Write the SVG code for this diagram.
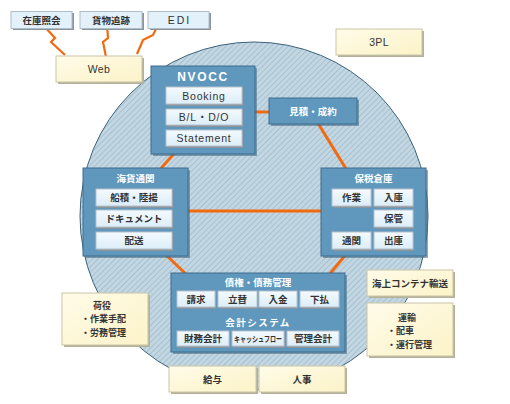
<svg xmlns="http://www.w3.org/2000/svg" width="510" height="404" viewBox="0 0 510 404">
<defs>
<pattern id="hatch" width="4" height="4" patternUnits="userSpaceOnUse" patternTransform="rotate(45)">
<rect width="4" height="4" fill="#c3d7e3"/>
<line x1="0" y1="0" x2="0" y2="4" stroke="#9bb7c8" stroke-width="1.4"/>
</pattern>
<linearGradient id="gSub" x1="0" y1="0" x2="0" y2="1">
<stop offset="0" stop-color="#f4faff"/><stop offset="1" stop-color="#dcedf8"/>
</linearGradient>
<linearGradient id="gCream" x1="0" y1="0" x2="1" y2="1">
<stop offset="0" stop-color="#fffbe8"/><stop offset="1" stop-color="#fcf3c8"/>
</linearGradient>
</defs>
<style>
.blue{fill:#5f97bd;stroke:#3f6d8c;stroke-width:1}
.bsh{fill:#4a6f88;opacity:0.6}
.sub{fill:url(#gSub);stroke:#b8c2ca;stroke-width:1}
.ssh{fill:#8a949c}
.cream{fill:url(#gCream);stroke:#c9c5a8;stroke-width:1}
.csh{fill:#b4b09a}
.top{fill:#e3f1fb;stroke:#b0bcc6;stroke-width:1}
.t{font-family:"Noto Sans CJK JP","Liberation Sans",sans-serif;font-size:9.5px;font-weight:bold;fill:#333;text-anchor:middle}
.tl{font-family:"Liberation Sans","Noto Sans CJK JP",sans-serif;font-size:10.5px;fill:#333;text-anchor:middle;letter-spacing:0.8px}
.w{font-family:"Noto Sans CJK JP","Liberation Sans",sans-serif;font-size:9.5px;font-weight:bold;fill:#ffffff;text-anchor:middle}
.wl{font-family:"Liberation Sans",sans-serif;font-size:12px;font-weight:bold;fill:#ffffff;text-anchor:middle;letter-spacing:1.6px}
.tc{font-family:"Noto Sans CJK JP","Liberation Sans",sans-serif;font-size:9px;font-weight:bold;fill:#333}
.link{stroke:#f26a0f;stroke-width:3;fill:none}
.bolt{stroke:#f26a0f;stroke-width:2.2;fill:none;stroke-linejoin:miter}
</style>

<circle id="ring" cx="254" cy="216" r="174" fill="url(#hatch)" stroke="#3c627a" stroke-width="1"/>

<g id="connectors">
<line class="link" x1="250" y1="112" x2="272" y2="112"/>
<line class="link" x1="316" y1="120" x2="348" y2="172"/>
<line class="link" x1="186" y1="140" x2="156" y2="174"/>
<line class="link" x1="185" y1="211" x2="324" y2="211"/>
<line class="link" x1="164" y1="253" x2="188" y2="276"/>
<line class="link" x1="348" y1="252" x2="328" y2="276"/>
<polyline class="bolt" points="43,25 55,38 51,42 65,55"/>
<polyline class="bolt" points="107,25 108,38 103,42 106,57"/>
<polyline class="bolt" points="158,25 153,35 143,40 137,54"/>
</g>

<g id="zaiko">
<rect class="ssh" x="13" y="13" width="61" height="17"/>
<rect class="top" x="11" y="11.5" width="61" height="17"/>
<text class="t" x="41.5" y="23.5">在庫照会</text>
</g>
<g id="kamotsu">
<rect class="ssh" x="82" y="13" width="62" height="17"/>
<rect class="top" x="80" y="11.5" width="62" height="17"/>
<text class="t" x="111" y="23.5">貨物追跡</text>
</g>
<g id="edi">
<rect class="ssh" x="150" y="13" width="61" height="17"/>
<rect class="top" x="148" y="11.5" width="61" height="17"/>
<text class="tl" x="179.5" y="24" style="letter-spacing:2px">EDI</text>
</g>
<g id="web">
<rect class="csh" x="58" y="58" width="86" height="26"/>
<rect class="cream" x="56" y="56" width="86" height="26"/>
<text class="tl" x="99" y="73" style="letter-spacing:0.3px">Web</text>
</g>
<g id="3pl">
<rect class="csh" x="338" y="31" width="86" height="26"/>
<rect class="cream" x="336" y="29" width="86" height="26"/>
<text class="tl" x="379" y="46" style="letter-spacing:0.3px">3PL</text>
</g>

<g id="nvocc">
<rect class="bsh" x="153" y="68" width="104" height="88"/>
<rect class="blue" x="151" y="66" width="104" height="88"/>
<text class="wl" x="203" y="81">NVOCC</text>
<rect class="ssh" x="167" y="88" width="76" height="18"/>
<rect class="sub" x="166" y="87" width="76" height="17"/>
<text class="tl" x="204" y="99.5">Booking</text>
<rect class="ssh" x="167" y="110" width="76" height="17"/>
<rect class="sub" x="166" y="109" width="76" height="16"/>
<text class="tl" x="204" y="121">B/L・D/O</text>
<rect class="ssh" x="167" y="131" width="76" height="17"/>
<rect class="sub" x="166" y="130" width="76" height="16"/>
<text class="tl" x="204" y="142">Statement</text>
</g>

<g id="mitsumori">
<rect class="bsh" x="271" y="100" width="88" height="26"/>
<rect class="blue" x="269" y="98" width="88" height="26"/>
<text class="w" x="313" y="115">見積・成約</text>
</g>

<g id="kaika">
<rect class="bsh" x="85" y="170" width="105" height="88"/>
<rect class="blue" x="83" y="168" width="105" height="88"/>
<text class="w" x="135.5" y="182">海貨通関</text>
<rect class="ssh" x="97" y="190" width="76" height="18"/>
<rect class="sub" x="96" y="189" width="76" height="17"/>
<text class="t" x="134" y="201">船積・陸揚</text>
<rect class="ssh" x="97" y="211" width="76" height="18"/>
<rect class="sub" x="96" y="210" width="76" height="17"/>
<text class="t" x="134" y="222">ドキュメント</text>
<rect class="ssh" x="97" y="233" width="76" height="18"/>
<rect class="sub" x="96" y="232" width="76" height="17"/>
<text class="t" x="134" y="244">配送</text>
</g>

<g id="hozei">
<rect class="bsh" x="323" y="170" width="105" height="88"/>
<rect class="blue" x="321" y="168" width="105" height="88"/>
<text class="w" x="373.5" y="182">保税倉庫</text>
<rect class="ssh" x="333" y="190" width="39" height="18"/>
<rect class="sub" x="332" y="189" width="39" height="17"/>
<text class="t" x="351.5" y="201">作業</text>
<rect class="ssh" x="375" y="190" width="39" height="18"/>
<rect class="sub" x="374" y="189" width="39" height="17"/>
<text class="t" x="393.5" y="201">入庫</text>
<rect class="ssh" x="375" y="211" width="39" height="18"/>
<rect class="sub" x="374" y="210" width="39" height="17"/>
<text class="t" x="393.5" y="222">保管</text>
<rect class="ssh" x="333" y="233" width="39" height="18"/>
<rect class="sub" x="332" y="232" width="39" height="17"/>
<text class="t" x="351.5" y="244">通関</text>
<rect class="ssh" x="375" y="233" width="39" height="18"/>
<rect class="sub" x="374" y="232" width="39" height="17"/>
<text class="t" x="393.5" y="244">出庫</text>
</g>

<g id="saiken">
<rect class="bsh" x="173" y="275" width="174" height="79"/>
<rect class="blue" x="171" y="273" width="174" height="79"/>
<text class="w" x="258" y="286">債権・債務管理</text>
<rect class="ssh" x="178" y="292" width="38" height="17"/>
<rect class="sub" x="177" y="291" width="38" height="16"/>
<text class="t" x="196" y="302.5">請求</text>
<rect class="ssh" x="219" y="292" width="39" height="17"/>
<rect class="sub" x="218" y="291" width="39" height="16"/>
<text class="t" x="237.5" y="302.5">立替</text>
<rect class="ssh" x="260" y="292" width="38" height="17"/>
<rect class="sub" x="259" y="291" width="38" height="16"/>
<text class="t" x="278" y="302.5">入金</text>
<rect class="ssh" x="301" y="292" width="39" height="17"/>
<rect class="sub" x="300" y="291" width="39" height="16"/>
<text class="t" x="319.5" y="302.5">下払</text>
<text class="w" x="258" y="325.5" style="letter-spacing:1.5px">会計システム</text>
<rect class="ssh" x="178" y="332" width="52" height="16"/>
<rect class="sub" x="177" y="331" width="52" height="15"/>
<text class="t" x="203" y="342">財務会計</text>
<rect class="ssh" x="233" y="332" width="52" height="16"/>
<rect class="sub" x="232" y="331" width="52" height="15"/>
<text class="t" x="258" y="341.5" style="font-size:8px" textLength="48" lengthAdjust="spacingAndGlyphs">キャッシュフロー</text>
<rect class="ssh" x="288" y="332" width="52" height="16"/>
<rect class="sub" x="287" y="331" width="52" height="15"/>
<text class="t" x="313" y="342">管理会計</text>
</g>

<g id="niyaku">
<rect class="csh" x="64" y="295" width="86" height="52"/>
<rect class="cream" x="62" y="293" width="86" height="52"/>
<text class="t" x="102" y="308.5" style="font-size:9px">荷役</text>
<text class="tc" x="81" y="322">・作業手配</text>
<text class="tc" x="81" y="335.5">・労務管理</text>
</g>

<g id="kaijo">
<rect class="csh" x="369" y="272" width="86" height="26"/>
<rect class="cream" x="367" y="270" width="86" height="26"/>
<text class="t" x="410" y="287">海上コンテナ輸送</text>
</g>

<g id="unyu">
<rect class="csh" x="369" y="305" width="86" height="53"/>
<rect class="cream" x="367" y="303" width="86" height="53"/>
<text class="t" x="407" y="320.5" style="font-size:9px">運輸</text>
<text class="tc" x="387" y="334">・配車</text>
<text class="tc" x="387" y="347.5">・運行管理</text>
</g>

<g id="kyuyo">
<rect class="csh" x="171" y="368" width="87" height="26"/>
<rect class="cream" x="169" y="366" width="87" height="26"/>
<text class="t" x="212.5" y="383">給与</text>
</g>
<g id="jinji">
<rect class="csh" x="261" y="368" width="86" height="26"/>
<rect class="cream" x="259" y="366" width="86" height="26"/>
<text class="t" x="302" y="383">人事</text>
</g>
</svg>
